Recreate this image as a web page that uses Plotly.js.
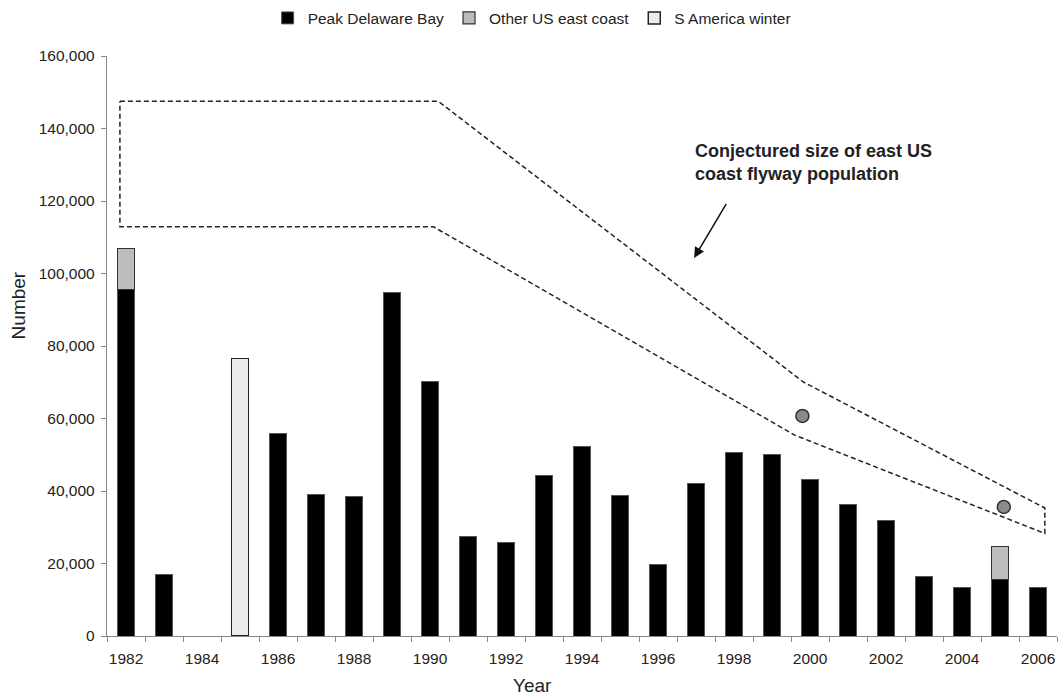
<!DOCTYPE html>
<html>
<head>
<meta charset="utf-8">
<script src="https://cdn.plot.ly/plotly-3.0.1.min.js"></script>
<style>html,body{margin:0;padding:0;background:#fff;}#chart{width:1058px;height:696px;}</style>
</head>
<body>
<div id="chart"></div>
<script>
// Years (categories)
const years = [1982,1983,1984,1985,1986,1987,1988,1989,1990,1991,1992,1993,1994,1995,1996,1997,1998,1999,2000,2001,2002,2003,2004,2005,2006];
// Peak Delaware Bay counts
const peakDelaware = [95500,17000,null,null,55800,39000,38400,94800,70300,27400,25800,44200,52300,38700,19600,42100,50600,50000,43300,36300,31900,16300,13400,15600,13500];
// Other US east coast counts
const otherEastCoast = [11500,null,null,null,null,null,null,null,null,null,null,null,null,null,null,null,null,null,null,null,null,null,null,9200,null];
// S America winter counts
const sAmericaWinter = [null,null,null,76600,null,null,null,null,null,null,null,null,null,null,null,null,null,null,null,null,null,null,null,null,null];
// Grey circle estimates
const circleYears = [1999.8,2005.1];
const circleValues = [60700,35600];
// Conjectured flyway population envelope (dashed polygon)
const flywayX = [1981.84,1990.22,1999.82,2006.18,2006.18,1999.6,1990.09,1981.84,1981.84];
const flywayY = [147500,147500,70100,35300,28300,55400,112900,112900,147500];
// Tick labels
const tickYears = [1982,1984,1986,1988,1990,1992,1994,1996,1998,2000,2002,2004,2006];
const yTicks = [0,20000,40000,60000,80000,100000,120000,140000,160000];

const FONT = 'Liberation Sans, Arial, sans-serif';
const TXT = '#222';

const traces = [
  {type:'bar', name:'Peak Delaware Bay', x:years, y:peakDelaware, width:0.46,
   marker:{color:'#000', line:{color:'#555', width:1}}},
  {type:'bar', name:'Other US east coast', x:years, y:otherEastCoast, width:0.46,
   marker:{color:'#bdbdbd', line:{color:'#333', width:1.2}}},
  {type:'bar', name:'S America winter', x:years, y:sAmericaWinter, width:0.46,
   marker:{color:'#ececec', line:{color:'#222', width:1.5}}},
  {type:'scatter', mode:'lines', x:flywayX, y:flywayY, showlegend:false, hoverinfo:'skip',
   line:{color:'#222', width:1.5, dash:'5px,3px'}},
  {type:'scatter', mode:'markers', x:circleYears, y:circleValues, showlegend:false,
   marker:{size:13, color:'#8a8a8a', line:{color:'#333', width:1.5}}}
];

const layout = {
  width:1058, height:696,
  margin:{l:107, r:1, t:54, b:60},
  paper_bgcolor:'#fff', plot_bgcolor:'#fff',
  font:{family:FONT, color:TXT, size:15},
  barmode:'stack',
  showlegend:true,
  legend:{orientation:'h', traceorder:'normal', x:0.447, xanchor:'center', y:1.065, yanchor:'middle',
          font:{size:15.5, color:TXT}, itemwidth:30, tracegroupgap:0},
  xaxis:{range:[1981.5,2006.5], tickvals:tickYears, ticktext:tickYears.map(String),
         ticks:'', showgrid:false, zeroline:false, showline:true, linecolor:'#888', linewidth:1.2,
         minor:{ticks:'outside', tick0:1981.5, dtick:1, ticklen:5, tickcolor:'#888', showgrid:false},
         tickfont:{size:15.5, color:TXT}, ticklabelstandoff:8},
  yaxis:{range:[0,160000], tickvals:yTicks, ticktext:yTicks.map(v=>v.toLocaleString('en-US')),
         ticks:'outside', ticklen:5, tickcolor:'#888', showgrid:false, zeroline:false,
         showline:true, linecolor:'#888', linewidth:1.2,
         tickfont:{size:15.5, color:TXT}, ticklabelstandoff:3},
  annotations:[
    {xref:'paper', yref:'paper', x:0.4475, y:-0.0859, xanchor:'center', yanchor:'middle',
     text:'Year', showarrow:false, font:{size:19, color:TXT, family:FONT}},
    {xref:'paper', yref:'paper', x:-0.0937, y:0.57, xanchor:'center', yanchor:'middle', textangle:-90,
     text:'Number', showarrow:false, font:{size:19, color:TXT, family:FONT}},
    {xref:'x', yref:'y', x:1996.92, y:130700, xanchor:'left', yanchor:'middle', align:'left',
     text:'<b>Conjectured size of east US<br>coast flyway population</b>', showarrow:false,
     font:{size:18, color:TXT, family:FONT}},
    {xref:'x', yref:'y', axref:'x', ayref:'y', x:1996.95, y:104300, ax:1997.82, ay:119600,
     text:'', showarrow:true, arrowhead:2, arrowsize:1.4, arrowwidth:1.5, arrowcolor:'#111', standoff:0}
  ]
};

Plotly.newPlot('chart', traces, layout, {displayModeBar:false, staticPlot:true});
</script>
</body>
</html>
